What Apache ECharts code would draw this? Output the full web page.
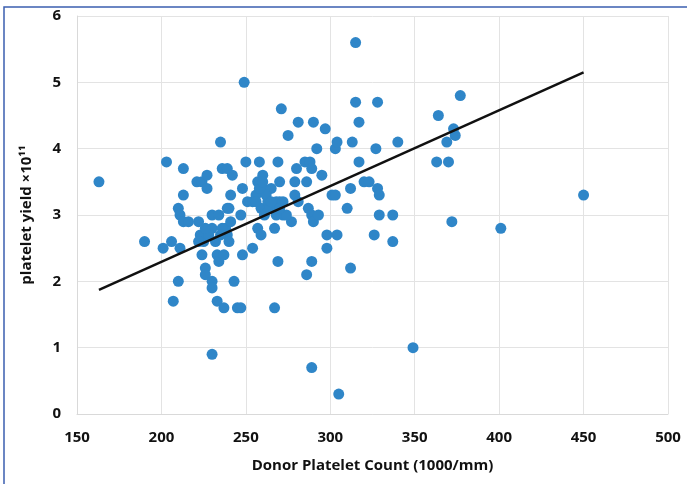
<!DOCTYPE html>
<html>
<head>
<meta charset="utf-8">
<script src="https://cdn.jsdelivr.net/npm/echarts@6/dist/echarts.min.js"></script>
<style>
html,body{margin:0;padding:0;background:#fff;}
#chart{width:687px;height:484px;}
</style>
</head>
<body>
<div id="chart"></div>
<script>
// Donor platelet count (1000/mm) and platelet yield (x10^11)
const donorCount = [
  163,190,201,206,203,207,210,211,210,211,213,213,213,216,221,222,224,227,227,224,
  223,225,226,226,230,230,230,230,230,233,234,235,233,234,237,237,236,239,242,238,
  239,240,241,241,239,240,243,245,247,247,248,248,249,250,251,254,254,256,257,257,
  259,258,260,260,259,261,263,265,266,267,267,268,269,269,270,271,270,272,275,277,
  279,280,279,281,281,285,286,286,287,288,289,289,289,290,290,289,292,293,295,297,
  298,298,301,303,303,304,304,305,310,312,312,313,315,315,317,317,320,323,326,327,
  328,328,329,329,337,337,340,349,363,364,369,370,372,373,374,377,401,450,
  262,264,268,258,272,274,256,260,265,270,228,232,236,226,222,235
];
const plateletYield = [
  3.5,2.6,2.5,2.6,3.8,1.7,3.1,3.0,2.0,2.5,2.9,3.7,3.3,2.9,3.5,2.9,3.5,3.6,3.4,2.4,
  2.7,2.6,2.2,2.1,2.0,1.9,0.9,3.0,2.8,1.7,3.0,4.1,2.4,2.3,2.4,1.6,3.7,3.7,3.6,2.8,
  3.1,3.1,3.3,2.9,2.7,2.6,2.0,1.6,1.6,3.0,2.4,3.4,5.0,3.8,3.2,3.2,2.5,3.3,2.8,3.5,
  2.7,3.8,3.6,3.4,3.1,3.0,3.2,3.4,3.1,2.8,1.6,3.2,3.8,2.3,3.5,4.6,3.2,3.0,4.2,2.9,
  3.3,3.7,3.5,3.2,4.4,3.8,3.5,2.1,3.1,3.8,0.7,2.3,3.0,4.4,2.9,3.7,4.0,3.0,3.6,4.3,
  2.7,2.5,3.3,3.3,4.0,4.1,2.7,0.3,3.1,2.2,3.4,4.1,5.6,4.7,4.4,3.8,3.5,3.5,2.7,4.0,
  4.7,3.4,3.3,3.0,3.0,2.6,4.1,1.0,3.8,4.5,4.1,3.8,2.9,4.3,4.2,4.8,2.8,3.3,
  3.3,3.1,3.0,3.4,3.2,3.0,3.2,3.5,3.2,3.1,2.7,2.6,2.8,2.8,2.6,2.7
];
// Regression (trend) line end points
const trendX = [163, 450];
const trendY = [1.87, 5.15];
// Axis ticks
const xTicks = [150, 200, 250, 300, 350, 400, 450, 500];
const yTicks = [0, 1, 2, 3, 4, 5, 6];

const points = donorCount.map((x, i) => [x, plateletYield[i]]);
const trend = trendX.map((x, i) => [x, trendY[i]]);

const chart = echarts.init(document.getElementById('chart'));
const FONT = '"Open Sans", "DejaVu Sans", sans-serif';
chart.setOption({
  animation: false,
  backgroundColor: '#ffffff',
  graphic: [{
    type: 'rect',
    shape: { x: 4, y: 7, width: 700, height: 500 },
    style: { fill: 'none', stroke: '#3b5fb0', lineWidth: 1.5 },
    silent: true
  }],
  grid: { left: 77, right: 19, top: 16, bottom: 70 },
  xAxis: {
    type: 'value',
    min: xTicks[0], max: xTicks[xTicks.length - 1], interval: 50,
    name: 'Donor Platelet Count (1000/mm)',
    nameLocation: 'middle', nameGap: 44,
    nameTextStyle: { fontFamily: FONT, fontWeight: 'bold', fontSize: 15, color: '#111' },
    axisLine: { show: true, lineStyle: { color: '#d9d9d9' } },
    axisTick: { show: false },
    axisLabel: { fontFamily: FONT, fontWeight: 'bold', fontSize: 15, color: '#111', margin: 16 },
    splitLine: { show: true, lineStyle: { color: '#e3e3e3' } }
  },
  yAxis: {
    type: 'value',
    min: yTicks[0], max: yTicks[yTicks.length - 1], interval: 1,
    name: 'platelet yield ×10¹¹',
    nameLocation: 'middle', nameGap: 43,
    nameTextStyle: { fontFamily: FONT, fontWeight: 'bold', fontSize: 15, color: '#111' },
    axisLine: { show: true, lineStyle: { color: '#d9d9d9' } },
    axisTick: { show: false },
    axisLabel: { fontFamily: FONT, fontWeight: 'bold', fontSize: 15, color: '#111', margin: 16 },
    splitLine: { show: true, lineStyle: { color: '#e3e3e3' } }
  },
  series: [
    {
      type: 'scatter',
      data: points,
      symbolSize: 11,
      itemStyle: { color: '#2f86c8', opacity: 1 },
      z: 2
    },
    {
      type: 'line',
      data: trend,
      showSymbol: false,
      symbol: 'none',
      lineStyle: { color: '#111', width: 2.5 },
      z: 3
    }
  ]
});
</script>
</body>
</html>
